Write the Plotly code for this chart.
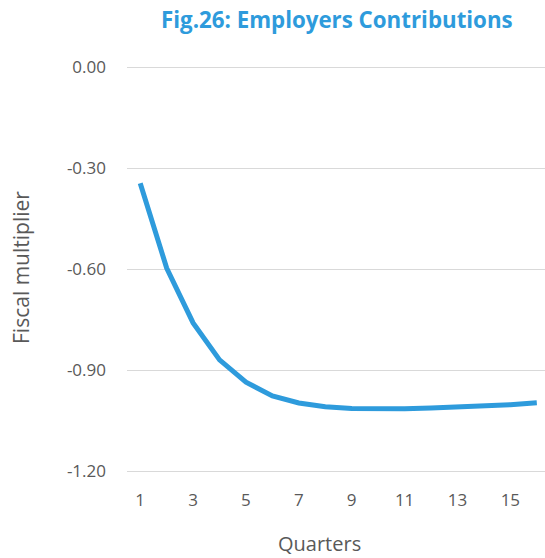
import plotly.graph_objects as go

quarters = list(range(1, 17))
multiplier = [-0.345, -0.597, -0.760, -0.870, -0.936, -0.977, -0.998, -1.009,
              -1.014, -1.016, -1.015, -1.013, -1.010, -1.007, -1.003, -0.997]
y_ticks = [0.0, -0.3, -0.6, -0.9, -1.2]
x_ticks = [1, 3, 5, 7, 9, 11, 13, 15]

blue = "#2E9BDC"
gray = "#595959"
font = "Open Sans"

W, H = 545, 558
l, r, t, b = 127, 0, 65, 85
pw, ph = W - l - r, H - t - b
pad = 2 / 336.67  # extra so edge gridlines are drawn

fig = go.Figure()
fig.add_trace(go.Scatter(x=quarters, y=multiplier, mode="lines",
                         line=dict(color=blue, width=5), hoverinfo="skip"))

fig.update_layout(
    width=W, height=H,
    margin=dict(l=l, r=r, t=t, b=b),
    paper_bgcolor="white", plot_bgcolor="white",
    showlegend=False,
    font=dict(family=font, color=gray),
    xaxis=dict(range=[0.5, 16.31], tickvals=x_ticks, ticktext=[str(v) for v in x_ticks],
               showgrid=False, zeroline=False, showline=False, ticks="",
               tickfont=dict(size=17, color=gray), ticklabelstandoff=15),
    yaxis=dict(range=[-1.2 - pad, 0.0 + pad], tickvals=y_ticks,
               ticktext=[f"{v:.2f}" for v in y_ticks],
               showgrid=True, gridcolor="#D9D9D9", gridwidth=1.3, zeroline=False,
               showline=False, ticks="", tickfont=dict(size=17, color=gray),
               ticklabelstandoff=20),
)

def px_ann(text, x, y, size, color, angle=0, xanchor="center"):
    return dict(text=text, x=(x - l) / pw, y=1 - (y - t) / ph, xref="paper", yref="paper",
                xanchor=xanchor, yanchor="middle", textangle=angle, showarrow=False,
                font=dict(size=size, color=color, family=font))

fig.update_layout(annotations=[
    px_ann("<b>Fig.26: Employers Contributions</b>", 337, 20, 22.3, blue),
    px_ann("Fiscal multiplier", 21, 268, 21, gray, -90),
    px_ann("Quarters", 319, 543, 20, gray),
])

fig.write_html("out.html")
